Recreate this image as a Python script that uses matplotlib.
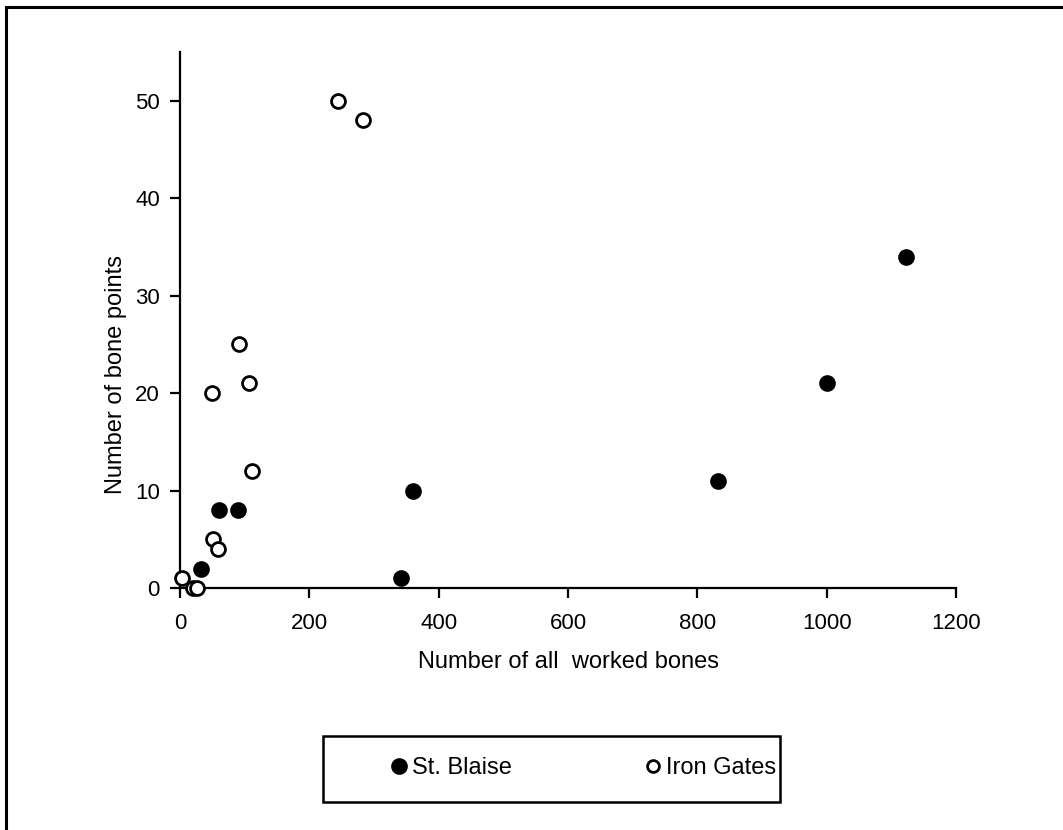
import matplotlib
matplotlib.use("Agg")
import matplotlib.pyplot as plt
from matplotlib.patches import Rectangle
from matplotlib.lines import Line2D

plt.rcParams['font.family'] = ['Liberation Sans', 'DejaVu Sans']

# Data
blaise_x = [1123, 1000, 832, 360, 342, 60, 89, 32]
blaise_y = [34, 21, 11, 10, 1, 8, 8, 2]

iron_x = [244, 283, 92, 107, 49, 112, 51, 58, 3, 20, 27]
iron_y = [50, 48, 25, 21, 20, 12, 5, 4, 1, 0, 0]

xticks = [0, 200, 400, 600, 800, 1000, 1200]
yticks = [0, 10, 20, 30, 40, 50]

W, H = 1063, 830
fig = plt.figure(figsize=(W / 100, H / 100), dpi=100)

# outer frame (only top/left visible in the reference)
fig.patches.append(Rectangle((6 / W, -0.05), 1.2, 1 - 7 / H + 0.05,
                             transform=fig.transFigure, fill=False,
                             edgecolor='black', linewidth=2.2, zorder=0))

ax = fig.add_axes([180 / W, (H - 588) / H, (956 - 180) / W, (588 - 52) / H])
ax.scatter(blaise_x, blaise_y, s=110, facecolor='black', edgecolor='black',
           linewidth=1.5, zorder=3, clip_on=False)
ax.scatter(iron_x, iron_y, s=100, facecolor='white', edgecolor='black',
           linewidth=2.0, zorder=3, clip_on=False)

ax.set_xlim(0, 1200)
ax.set_ylim(0, 55)
ax.set_xticks(xticks)
ax.set_yticks(yticks)
for s in ['top', 'right']:
    ax.spines[s].set_visible(False)
for s in ['left', 'bottom']:
    ax.spines[s].set_linewidth(1.6)
ax.tick_params(direction='out', length=7, width=1.6, labelsize=16)
ax.tick_params(axis='x', pad=11)
ax.tick_params(axis='y', pad=7.5)
ax.set_xlabel('Number of all  worked bones', fontsize=17, labelpad=12)
ax.set_ylabel('Number of bone points', fontsize=17)
ax.yaxis.set_label_coords((127 - 180) / 776, (588 - 375) / 536)

fs = 17
h1 = Line2D([], [], linestyle='none', marker='o', markersize=11,
            markerfacecolor='black', markeredgecolor='black')
h2 = Line2D([], [], linestyle='none', marker='o', markersize=8.5,
            markerfacecolor='white', markeredgecolor='black', markeredgewidth=2)
yc = (H - 768) / H
leg1 = fig.legend([h1], ['St. Blaise'], loc='center left',
                  bbox_to_anchor=(390 / W, yc), fontsize=fs, frameon=False,
                  borderpad=0, borderaxespad=0, handlelength=0.8,
                  handletextpad=0.15)
leg2 = fig.legend([h2], ['Iron Gates'], loc='center left',
                  bbox_to_anchor=(644 / W, yc), fontsize=fs, frameon=False,
                  borderpad=0, borderaxespad=0, handlelength=0.8,
                  handletextpad=0.15)

fig.patches.append(Rectangle((323 / W, (H - 802) / H), (780 - 323) / W, 66 / H,
                             transform=fig.transFigure, fill=False,
                             edgecolor='black', linewidth=1.8))

fig.savefig('out.png', dpi=100, facecolor='white')
